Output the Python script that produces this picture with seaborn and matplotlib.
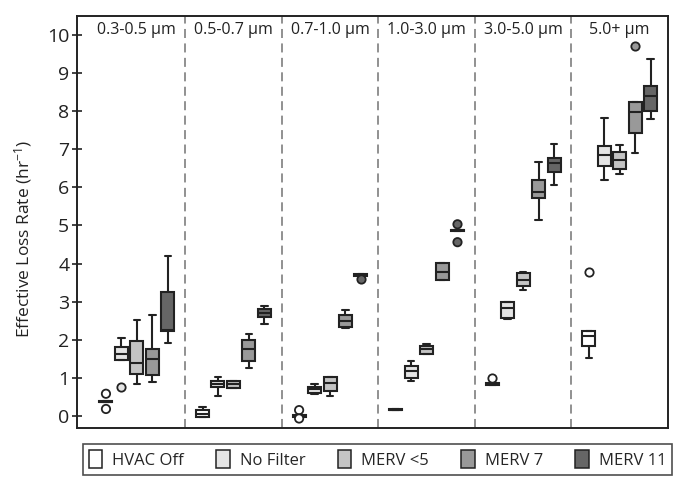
import numpy as np
import pandas as pd
import matplotlib
matplotlib.use('Agg')
import matplotlib.pyplot as plt
from matplotlib.patches import Patch
import seaborn as sns

# particle size bins and filter conditions
sizes = ['0.3-0.5 µm', '0.5-0.7 µm', '0.7-1.0 µm', '1.0-3.0 µm', '3.0-5.0 µm', '5.0+ µm']
filters = ['HVAC Off', 'No Filter', 'MERV <5', 'MERV 7', 'MERV 11']
colors = ['#ffffff', '#e4e4e4', '#c4c4c4', '#999999', '#666666']

# box values per size bin: [low whisker, q1, median, q3, high whisker]
hvac_off = [
    [0.36, 0.36, 0.37, 0.39, 0.39],
    [-0.02, -0.02, 0.05, 0.15, 0.24],
    [-0.03, -0.03, -0.01, 0.01, 0.01],
    [0.14, 0.14, 0.16, 0.18, 0.18],
    [0.81, 0.81, 0.83, 0.86, 0.86],
    [1.53, 1.84, 2.09, 2.24, 2.24],
]
no_filter = [
    [1.47, 1.47, 1.63, 1.82, 2.04],
    [0.51, 0.75, 0.83, 0.92, 1.02],
    [0.57, 0.60, 0.70, 0.75, 0.83],
    [0.92, 0.99, 1.17, 1.32, 1.43],
    [2.55, 2.57, 2.83, 2.98, 2.98],
    [6.19, 6.56, 6.84, 7.09, 7.82],
]
merv_5 = [
    [0.83, 1.11, 1.39, 1.96, 2.51],
    [0.73, 0.73, 0.84, 0.92, 0.92],
    [0.51, 0.64, 0.86, 1.02, 1.02],
    [1.63, 1.63, 1.75, 1.84, 1.89],
    [3.30, 3.40, 3.58, 3.75, 3.77],
    [6.34, 6.47, 6.72, 6.94, 7.12],
]
merv_7 = [
    [0.89, 1.06, 1.49, 1.76, 2.64],
    [1.25, 1.43, 1.75, 2.00, 2.15],
    [2.31, 2.33, 2.48, 2.66, 2.79],
    [3.56, 3.56, 3.77, 4.02, 4.02],
    [5.13, 5.71, 5.88, 6.19, 6.67],
    [6.89, 7.44, 7.98, 8.25, 8.25],
]
merv_11 = [
    [1.91, 2.22, 2.25, 3.26, 4.19],
    [2.42, 2.60, 2.70, 2.81, 2.89],
    [3.66, 3.66, 3.69, 3.72, 3.72],
    [4.85, 4.85, 4.87, 4.89, 4.89],
    [6.05, 6.40, 6.65, 6.78, 7.13],
    [7.79, 8.01, 8.39, 8.67, 9.37],
]

# outlier points
flier_size = [0, 0, 0, 2, 2, 2, 3, 3, 4, 5, 5]
flier_filter = ['HVAC Off', 'HVAC Off', 'No Filter', 'HVAC Off', 'HVAC Off', 'MERV 11',
                'MERV 11', 'MERV 11', 'HVAC Off', 'HVAC Off', 'MERV 7']
flier_value = [0.58, 0.18, 0.77, 0.15, -0.07, 3.60, 5.03, 4.56, 0.99, 3.77, 9.70]

# long-form table
rows = []
for name, boxes in zip(filters, [hvac_off, no_filter, merv_5, merv_7, merv_11]):
    for s, vals in zip(sizes, boxes):
        for v in vals:
            rows.append((s, name, v))
df = pd.DataFrame(rows, columns=['size', 'filter', 'value'])
fl = pd.DataFrame({'size': [sizes[i] for i in flier_size], 'filter': flier_filter, 'value': flier_value})

palette = dict(zip(filters, colors))

sns.set_style('white')
plt.rcParams['font.family'] = ['Open Sans', 'DejaVu Sans']
plt.rcParams['mathtext.default'] = 'regular'

fig = plt.figure(figsize=(6.73, 4.8), dpi=100)
ax = fig.add_axes([0.1144, 0.1083, 0.8782, 0.8584])

sns.boxplot(data=df, x='size', y='value', hue='filter', order=sizes, hue_order=filters,
            palette=palette, whis=(0, 100), showfliers=False, width=0.8, gap=0.16,
            linewidth=1.5, linecolor='#222222', legend=False, ax=ax)
sns.stripplot(data=fl, x='size', y='value', hue='filter', order=sizes, hue_order=filters,
              palette=palette, dodge=True, jitter=False, size=6, linewidth=1.3,
              edgecolor='#222222', legend=False, ax=ax)

for i in range(len(sizes) - 1):
    ax.axvline(i + 0.5, color='#888888', linestyle=(0, (5, 3)), linewidth=1.3, zorder=0)
for i, s in enumerate(sizes):
    ax.text(i, 10.12, s, ha='center', va='center', fontsize=11.5, color='#222222')

ax.set_xlim(-0.62, 5.5)
ax.set_ylim(-0.32, 10.5)
ax.set_yticks(range(0, 11))
ax.set_xticks([])
ax.set_xlabel('')
ax.set_ylabel('Effective Loss Rate (hr$^{-1}$)', fontsize=12.5, color='#222222')
ax.yaxis.set_label_coords(-0.072, 0.46)
ax.tick_params(axis='y', direction='inout', length=7, width=1.2, labelsize=14,
               colors='#222222', left=True, pad=2)
for sp in ax.spines.values():
    sp.set_color('#222222')
    sp.set_linewidth(1.4)

handles = [Patch(facecolor=c, edgecolor='#222222', linewidth=1.1) for c in colors]
leg = fig.legend(handles, filters, loc='lower center', bbox_to_anchor=(0.561, -0.006),
                 ncol=5, fontsize=12, frameon=True, fancybox=False, edgecolor='#222222',
                 handlelength=0.8, handleheight=1.3, handletextpad=0.6, columnspacing=1.95,
                 borderpad=0.35)
leg.get_frame().set_linewidth(1.2)

fig.savefig('out.png', dpi=100)
